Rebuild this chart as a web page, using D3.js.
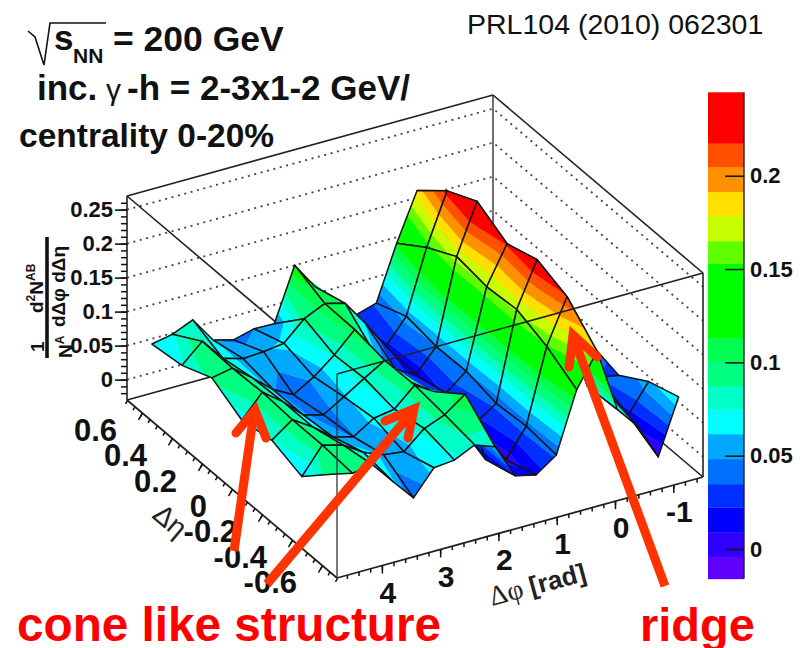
<!DOCTYPE html>
<html>
<head>
<meta charset="utf-8">
<script src="https://cdn.jsdelivr.net/npm/d3@7/dist/d3.min.js"></script>
<style>
html,body{margin:0;padding:0;background:#fff;}
svg{display:block;}
text{font-family:"Liberation Sans",Arial,sans-serif;}
.b{font-weight:bold;}
</style>
</head>
<body>
<svg id="c" width="806" height="648"></svg>
<script>
// ---- data ----
const phiBins = [4.60,4.25,3.90,3.55,3.20,2.85,2.50,2.15,1.80,1.45,1.10,0.75,0.40,0.05,-0.30,-0.65,-1.00,-1.35];
const etaBins = [-0.6,-0.4,-0.2,0,0.2,0.4,0.6];
const yieldEtaM06 = [.100,.093,.097,.064,.032,.068,.071,.085,.074,.023,.016,.037,.125,.173,.079,.046,-.007,.073];
const yieldEtaM04 = [.059,.097,.089,.070,.058,.054,.080,.092,.114,.010,.001,.042,.151,.216,.076,.058,.017,.058];
const yieldEtaM02 = [.075,.097,.078,.055,.047,.066,.071,.098,.080,.030,.018,.038,.168,.233,.160,.070,.035,.030];
const yieldEta00  = [.067,.100,.078,.050,.042,.060,.079,.097,.060,.020,.024,.048,.164,.219,.160,.080,.040,.042];
const yieldEtaP02 = [.092,.098,.075,.050,.034,.052,.076,.105,.060,.030,.014,.047,.171,.244,.170,.070,.040,.030];
const yieldEtaP04 = [.073,.100,.067,.058,.060,.064,.092,.106,.098,.060,.018,.054,.147,.222,.180,.070,.040,.030];
const yieldEtaP06 = [.067,.073,.086,.048,.040,.048,.047,.125,.085,.056,.027,.036,.116,.185,.130,.070,.040,.030];
const surface = [yieldEtaM06,yieldEtaM04,yieldEtaM02,yieldEta00,yieldEtaP02,yieldEtaP04,yieldEtaP06];

const levelEdges = [-0.016,-0.0041,0.0089,0.0223,0.0348,0.0482,0.0616,0.0748,0.0873,0.1004,0.1129,0.1529,0.165,0.1784,0.1914,0.2048,0.2173,0.2447];
const levelColors = ["#6000ff","#3000ff","#0000ff","#0030ff","#0070ff","#00a8ff","#00ffff","#00ffc8","#00ff80","#00ff50","#00ff00","#60ff00","#c8ff00","#ffe000","#ff9000","#ff5000","#ff0000"];

const zTicks = [0,0.05,0.1,0.15,0.2,0.25];
const zMinor = d3.range(-2,27).map(d=>d/100);
const etaTicks = [-0.6,-0.4,-0.2,0,0.2,0.4,0.6];
const etaMinor = d3.range(-7,8).map(d=>d/10*1).concat(d3.range(-6.5,7,1).map(d=>d/10));
const phiTicks = [4,3,2,1,0,-1];
const phiMinor = d3.range(-7,24).map(d=>d/5);
const barTicks = [0,0.05,0.1,0.15,0.2];

// ---- layout ----
const svg = d3.select("#c");
const F = [337,578], U=[366,-101], V=[-210,-178], H=204;
const uS = d3.scaleLinear().domain([4.77,-1.51]).range([0,1]);
const vS = d3.scaleLinear().domain([-0.7,0.7]).range([0,1]);
const hS = d3.scaleLinear().domain([-0.03,0.27]).range([0,H]);
function proj(phi,eta,z){
  const u=uS(phi), v=vS(eta), h=hS(z);
  return [F[0]+u*U[0]+v*V[0], F[1]+u*U[1]+v*V[1]-h];
}
const corner=(u,v,top)=>[F[0]+u*U[0]+v*V[0], F[1]+u*U[1]+v*V[1]-(top?H:0)];
const line=d3.line();
const bandColor=d3.scaleThreshold().domain(levelEdges.slice(1,-1)).range(levelColors);

function seg(g,a,b,w,col){g.append("path").attr("d",line([a,b])).attr("fill","none").attr("stroke",col||"#222").attr("stroke-width",w||1.6);}

// back walls & grid
const back=svg.append("g");
zTicks.forEach(z=>{
  const h=hS(z);
  const p=(u,v)=>{const c=corner(u,v,false);return [c[0],c[1]-h];};
  back.append("path").attr("d",line([p(0,1),p(1,1),p(1,0)])).attr("fill","none")
    .attr("stroke","#444").attr("stroke-width",1.8).attr("stroke-dasharray","2 4.6");
});
seg(back,corner(0,1,false),corner(0,1,true));
seg(back,corner(1,1,false),corner(1,1,true),1.3);
seg(back,corner(1,0,false),corner(1,0,true));
seg(back,corner(0,1,true),corner(1,1,true));
seg(back,corner(1,1,true),corner(1,0,true));
seg(back,corner(0,1,false),corner(1,1,false));
seg(back,corner(1,1,false),corner(1,0,false));
seg(back,corner(0,0,true),corner(0,1,true));

// surface
function clip(poly,level,keepAbove){
  const out=[];
  for(let i=0;i<poly.length;i++){
    const a=poly[i],b=poly[(i+1)%poly.length];
    const ia=keepAbove?a[2]>=level:a[2]<=level, ib=keepAbove?b[2]>=level:b[2]<=level;
    if(ia) out.push(a);
    if(ia!==ib){
      const t=(level-a[2])/(b[2]-a[2]);
      out.push([a[0]+t*(b[0]-a[0]),a[1]+t*(b[1]-a[1]),level]);
    }
  }
  return out;
}
const surf=svg.append("g");
const cells=[];
for(let k=phiBins.length-2;k>=0;k--){
  for(let j=etaBins.length-2;j>=0;j--){
    cells.push([[k,j],[k+1,j],[k+1,j+1],[k,j+1]]);
  }
}
cells.forEach(cell=>{
  const poly=cell.map(([k,j])=>{
    const z=surface[j][k], p=proj(phiBins[k],etaBins[j],z);
    return [p[0],p[1],z];
  });
  const g=surf.append("g");
  levelColors.forEach((c,i)=>{
    let lo=i===0?-1:levelEdges[i], hi=i===levelColors.length-1?1:levelEdges[i+1];
    let q=clip(poly,lo,true); if(q.length>2) q=clip(q,hi,false);
    if(q.length>2){
      g.append("path").attr("d",line(q.map(d=>[d[0],d[1]]))+"Z")
       .attr("fill",bandColor((lo+hi)/2<levelEdges[0]?levelEdges[0]:Math.max(lo,levelEdges[0])+1e-4))
       .attr("stroke",bandColor(Math.max(lo,levelEdges[0])+1e-4)).attr("stroke-width",0.4);
    }
  });
  g.append("path").attr("d",line(poly.map(d=>[d[0],d[1]]))+"Z")
    .attr("fill","none").attr("stroke","#141414").attr("stroke-width",1.5).attr("stroke-linejoin","round");
});

// front box lines
const front=svg.append("g");
seg(front,corner(0,0,false),corner(0,0,true),1.3,"#333");
seg(front,corner(0,0,true),corner(1,0,true),1.6);
seg(front,corner(0,0,false),corner(0,1,false),1.8);
seg(front,corner(0,0,false),corner(1,0,false),1.8);

// axes
function tidy(g){
  g.select(".domain").remove();
  g.selectAll("line").attr("stroke","#111").attr("stroke-width",1.5).attr("vector-effect","non-scaling-stroke");
  g.selectAll("text").remove();
}
const phiAxisS=d3.scaleLinear().domain(uS.domain()).range([0,U[0]]);
const etaAxisS=d3.scaleLinear().domain([0.7,-0.7]).range([0,-V[0]]);
const phiG=svg.append("g").attr("transform",`matrix(1,${U[1]/U[0]},0,1,${F[0]},${F[1]})`);
phiG.append("g").call(d3.axisBottom(phiAxisS).tickValues(phiMinor.filter(d=>d>-1.5&&d<4.75)).tickSize(4)).call(tidy);
phiG.append("g").call(d3.axisBottom(phiAxisS).tickValues(phiTicks).tickSize(8)).call(tidy);
const c01=corner(0,1,false);
const etaG=svg.append("g").attr("transform",`matrix(1,${V[1]/V[0]},-0.5,0.85,${c01[0]},${c01[1]})`);
etaG.append("g").call(d3.axisBottom(etaAxisS).tickValues(etaMinor).tickSize(4)).call(tidy);
etaG.append("g").call(d3.axisBottom(etaAxisS).tickValues(etaTicks).tickSize(8)).call(tidy);

const zPix=d3.scaleLinear().domain(hS.domain()).range([c01[1],c01[1]-H]);
const zG=svg.append("g").attr("transform",`translate(${c01[0]},0)`);
zG.append("g").call(d3.axisLeft(zPix).tickValues(zMinor).tickSize(6)).call(tidy);
const zMajor=zG.append("g").call(d3.axisLeft(zPix).tickValues(zTicks).tickSize(12).tickPadding(2).tickFormat(d=>String(+d.toFixed(2))));
zMajor.select(".domain").remove();
zMajor.selectAll("line").attr("stroke","#111").attr("stroke-width",1.6);
zMajor.selectAll("text").attr("class","b").attr("font-size",22).attr("font-family",null).attr("fill","#111");

// axis tick labels
const tl=svg.append("g").attr("class","b").attr("fill","#111");
etaTicks.forEach(e=>{
  const [x,y]=[c01[0]+etaAxisS(e),c01[1]+etaAxisS(e)*V[1]/V[0]];
  tl.append("text").attr("x",x-25).attr("y",y+28).attr("text-anchor","end").attr("font-size",31).text(String(e));
});
phiTicks.forEach(p=>{
  const x=F[0]+phiAxisS(p), y=F[1]+phiAxisS(p)*U[1]/U[0];
  tl.append("text").attr("x",x+6).attr("y",y+37).attr("text-anchor","middle").attr("font-size",30).text(String(p));
});

// axis titles
const phiT=svg.append("text").attr("transform","translate(492,606) rotate(-15)").attr("fill","#222");
phiT.append("tspan").attr("font-family","Liberation Serif").attr("font-size",28).text("Δφ");
phiT.append("tspan").attr("class","b").attr("font-size",26).attr("dx",7).text("[rad]");
svg.append("text").attr("transform","translate(151,517) rotate(40)").attr("fill","#222")
  .attr("font-family","Liberation Serif").attr("font-size",28).text("Δη");

// z title
function rotText(x,y,parts){
  const t=svg.append("text").attr("transform",`translate(${x},${y}) rotate(-90)`).attr("class","b").attr("fill","#111");
  let prev=0;
  parts.forEach(([s,size,rise])=>{
    t.append("tspan").attr("font-size",size).attr("dy",prev-rise).text(s);
    prev=rise;
  });
}
rotText(44,352,[["1",19,0]]);
rotText(43,313,[["d",19,0],["2",12,8],["N",19,0],["AB",12,8]]);
rotText(72,358,[["N",19,0],["A",12,8]]);
rotText(65,327,[["dΔφ dΔη",19,0]]);
svg.append("path").attr("d",line([[47,237],[47,358]])).attr("stroke","#111").attr("stroke-width",3.6).attr("fill","none");

// colour bar
const barY=d3.scaleLinear().domain([0,0.2]).range([549,175.7]);
const bar=svg.append("g");
levelColors.forEach((c,i)=>{
  bar.append("rect").attr("x",708).attr("width",36).attr("y",barY(levelEdges[i+1])).attr("height",barY(levelEdges[i])-barY(levelEdges[i+1])+0.3).attr("fill",c);
});
const barG=svg.append("g").attr("transform","translate(744,0)")
  .call(d3.axisRight(barY).tickValues(barTicks).tickSizeInner(-19).tickSizeOuter(0).tickPadding(6).tickFormat(d=>String(+d.toFixed(2))));
barG.select(".domain").attr("d",line([[0,barY(levelEdges[0])],[0,barY(levelEdges[levelEdges.length-1])]])).attr("stroke","#222").attr("stroke-width",1.4);
barG.selectAll("line").attr("stroke","#111").attr("stroke-width",1.5);
barG.selectAll("text").attr("class","b").attr("font-size",22).attr("font-family",null).attr("fill","#111");

// headers
const hd=svg.append("g").attr("class","b").attr("fill","#111");
hd.append("path").attr("d",line([[28,31],[35,37],[44,65],[50,23],[106,23]])).attr("fill","none").attr("stroke","#111").attr("stroke-width",1.6);
hd.append("text").attr("x",54).attr("y",50).attr("font-size",35).text("s");
hd.append("text").attr("x",73).attr("y",63).attr("font-size",21).text("NN");
hd.append("text").attr("x",113).attr("y",51).attr("font-size",35.5).text("= 200 GeV");
const clipR=svg.append("clipPath").attr("id","cp").append("rect").attr("x",0).attr("y",60).attr("width",412).attr("height",60);
const l2=hd.append("g").attr("clip-path","url(#cp)");
l2.append("text").attr("x",37).attr("y",100).attr("font-size",35).text("inc.");
l2.append("text").attr("x",106).attr("y",100).attr("font-size",30).attr("font-weight","normal").attr("font-family","Liberation Serif").text("γ");
l2.append("text").attr("x",127).attr("y",100).attr("font-size",35).text("-h = 2-3x1-2 GeV/");
hd.append("text").attr("x",19).attr("y",147).attr("font-size",33.5).text("centrality 0-20%");
svg.append("text").attr("x",467).attr("y",34).attr("font-size",28.5).attr("fill","#111").text("PRL104 (2010) 062301");

// annotations
const red="#ff3300";
function arrow(path){svg.append("path").attr("d",line(path)).attr("fill","none").attr("stroke",red).attr("stroke-width",9);}
function head(path){svg.append("path").attr("d",line(path)).attr("fill","none").attr("stroke",red).attr("stroke-width",9).attr("stroke-linecap","round").attr("stroke-linejoin","miter");}
arrow([[234,551],[254,412]]); head([[236,433],[255,410],[266,438]]);
arrow([[267,584],[413,411]]); head([[385,421],[414,409],[408,438]]);
arrow([[665,586],[573,336]]); head([[569,367],[573,335],[597,357]]);
svg.append("text").attr("class","b").attr("x",17).attr("y",641).attr("font-size",47.7).attr("fill","#ff0000").text("cone like structure");
svg.append("text").attr("class","b").attr("x",640).attr("y",641).attr("font-size",47).attr("fill","#ff0000").text("ridge");
</script>
</body>
</html>
